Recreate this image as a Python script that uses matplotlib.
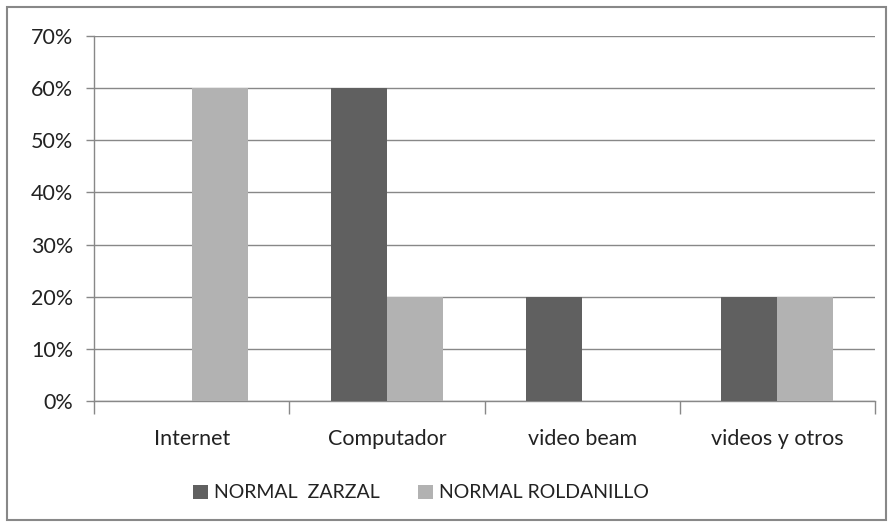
import matplotlib
matplotlib.use("Agg")
import matplotlib.pyplot as plt
import numpy as np
from matplotlib.patches import Rectangle

categories = ["Internet", "Computador", "video beam", "videos y otros"]
zarzal = [0, 60, 20, 20]
roldanillo = [60, 20, 0, 20]
series_names = ["NORMAL  ZARZAL", "NORMAL ROLDANILLO"]
yticks = [0, 10, 20, 30, 40, 50, 60, 70]

plt.rcParams['font.family'] = ['Lato', 'DejaVu Sans']

fig = plt.figure(figsize=(8.93, 5.27), dpi=100)
fig.patches.append(Rectangle((7/893, 7/527), 879/893, 513/527, transform=fig.transFigure,
                             fill=False, edgecolor='#888888', linewidth=1.5))
ax = fig.add_axes([94/893, 1 - 401/527, (875 - 94)/893, (401 - 36)/527])

x = np.arange(len(categories))
w = 0.287
ax.bar(x - w/2, zarzal, w, color='#606060', label=series_names[0], zorder=3)
ax.bar(x + w/2, roldanillo, w, color='#b2b2b2', label=series_names[1], zorder=3)

ax.set_xlim(-0.5, len(categories) - 0.5)
ax.set_ylim(0, 70)
ax.set_yticks(yticks)
ax.set_yticklabels([f"{v}%" for v in yticks], fontsize=15.5, color='#222222')
ax.yaxis.grid(True, color='#888888', linewidth=1, zorder=0)
ax.set_xticks(x)
ax.set_xticklabels(categories, fontsize=15.5, color='#222222')
ax.tick_params(axis='x', length=0, pad=20)
ax.set_xticks(np.arange(-0.5, len(categories)), minor=True)
ax.tick_params(axis='x', which='minor', length=9, color='#888888', width=1)
ax.tick_params(axis='y', length=6, color='#888888', width=1, pad=9)

for s in ['top', 'right']:
    ax.spines[s].set_visible(False)
for s in ['left', 'bottom']:
    ax.spines[s].set_color('#888888')
    ax.spines[s].set_linewidth(1)

leg = fig.legend(loc='center', bbox_to_anchor=(421/893, 1 - 493/527), ncol=2, frameon=False,
                 fontsize=14, handlelength=0.75, handleheight=0.75, handletextpad=0.3,
                 columnspacing=2.0)
for t in leg.get_texts():
    t.set_color('#222222')

fig.savefig("out.png", dpi=100)
